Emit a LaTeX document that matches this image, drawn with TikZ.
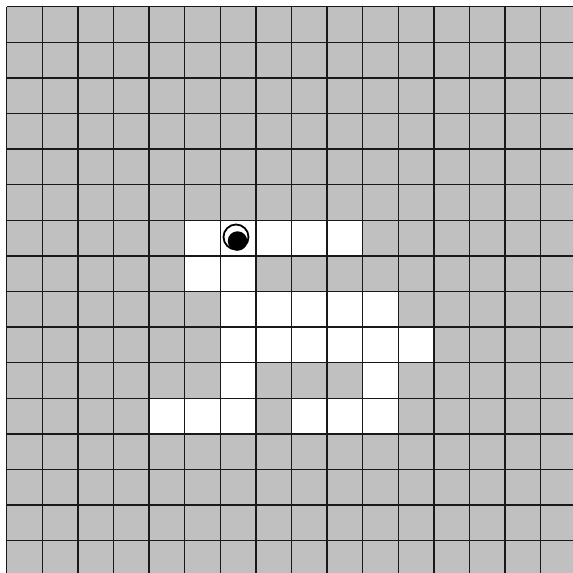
\documentclass[tikz,border=0pt]{standalone}
\begin{document}
\begin{tikzpicture}[x=1pt,y=-1pt,
  gridline/.style={line width=1.4pt,black!90},
  cellwhite/.style={fill=white}]
\useasboundingbox (0,0) rectangle (573,573);
\begin{scope}
\clip (0,0) rectangle (573,573);
\def\s{35.6}
\def\o{6.7}
\fill[fill={rgb,255:red,192;green,192;blue,192}] (\o,\o) rectangle (573,573);
\foreach \c/\r in {5/6,6/6,7/6,8/6,9/6,5/7,6/7,6/8,7/8,8/8,9/8,10/8,6/9,7/9,8/9,9/9,10/9,11/9,6/10,10/10,4/11,5/11,6/11,8/11,9/11,10/11}
  \fill[cellwhite] ({\o+\c*\s},{\o+\r*\s}) rectangle ({\o+(\c+1)*\s},{\o+(\r+1)*\s});
\foreach \i in {0,...,16} {
  \draw[gridline] ({\o+\i*\s},\o) -- ({\o+\i*\s},580);
  \draw[gridline] (\o,{\o+\i*\s}) -- (580,{\o+\i*\s});
}
\node[circle,draw=black,line width=1.8pt,minimum size=25pt,inner sep=0pt] (ring) at (236,237) {};
\node[circle,fill=black,minimum size=19.5pt,inner sep=0pt] (dot) at (237.5,241) {};
\end{scope}
\end{tikzpicture}
\end{document}
